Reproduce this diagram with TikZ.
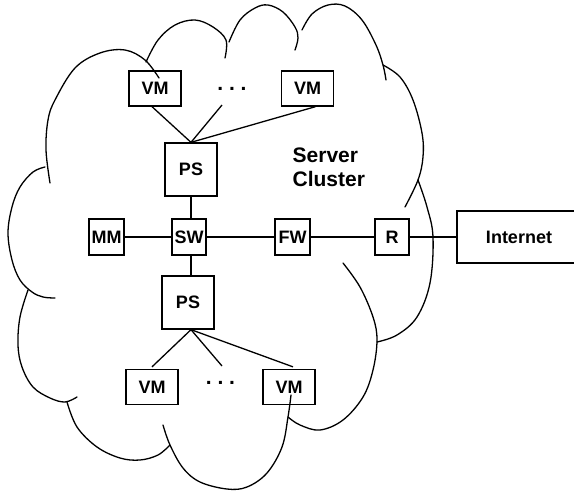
\documentclass[tikz,border=0pt]{standalone}
\usepackage{fontspec}
\setmainfont{Liberation Sans}
\begin{document}
\begin{tikzpicture}[x=1pt,y=-1pt,
  every path/.style={line width=1.3pt},
  box/.style={draw, line width=1.3pt, inner sep=0pt, font=\bfseries\fontsize{18}{21}\selectfont},
  vmbox/.style={box, minimum width=52pt, minimum height=35pt},
  psbox/.style={box, minimum width=52pt, minimum height=53pt},
  smallbox/.style={box, minimum width=34pt, minimum height=36pt},
  dotstyle/.style={inner sep=0pt, font=\bfseries\fontsize{21}{24}\selectfont\frenchspacing},
  link/.style={line width=1.3pt},
  cloudline/.style={line width=1.3pt, line cap=round}]
\useasboundingbox (0,0) rectangle (574,491);

% cloud lobes
\draw[cloudline] plot[smooth, tension=0.6] coordinates {(50,183) (46,150) (48,120) (55,100) (75,68) (100,53) (125,50) (145,60) (159,78)};
\draw[cloudline] plot[smooth, tension=0.6] coordinates {(146,62) (158,40) (175,25) (195,20) (213,27) (226,40) (225,58)};
\draw[cloudline] plot[smooth, tension=0.6] coordinates {(229,42) (240,20) (255,8) (268,5) (283,12) (295,27) (298,38) (295,50)};
\draw[cloudline] plot[smooth, tension=0.6] coordinates {(302,30) (312,14) (328,5) (345,6) (362,20) (376,45) (383,65) (386,80)};
\draw[cloudline] plot[smooth, tension=0.6] coordinates {(383,65) (400,77) (413,100) (422,133) (423,157) (418,180) (405,207)};
\draw[cloudline] plot[smooth, tension=0.6] coordinates {(418,180) (427,207) (433,237) (430,283) (417,317) (397,335) (377,342)};
\draw[cloudline] plot[smooth, tension=0.6] coordinates {(343,263) (360,287) (373,317) (377,340) (373,370) (363,397) (343,420) (320,430) (300,425) (288,417)};
\draw[cloudline] plot[smooth, tension=0.6] coordinates {(291,395) (288,417) (282,447) (267,473) (247,487) (227,489) (200,482) (183,468) (170,445) (163,425)};
\draw[cloudline] plot[smooth, tension=0.6] coordinates {(67,402) (77,427) (97,447) (120,458) (140,460) (158,455) (170,445)};
\draw[cloudline] plot[smooth, tension=0.6] coordinates {(28,290) (20,317) (18,345) (22,367) (33,387) (50,398) (65,402) (77,397)};
\draw[cloudline] plot[smooth, tension=0.6] coordinates {(45,167) (33,172) (20,187) (12,207) (8,233) (12,260) (20,280) (32,292) (43,297) (55,298)};

% nodes
\node[vmbox] (vm1) at (155,88.5) {VM};
\node[vmbox] (vm2) at (307.5,88.5) {VM};
\node[dotstyle] (dots1) at (232,89) {. . .};
\node[psbox] (ps1) at (191,169.5) {PS};
\node[smallbox, minimum width=35pt] (mm) at (106.5,237) {MM};
\node[smallbox] (sw) at (189,237) {SW};
\node[smallbox, minimum width=35pt] (fw) at (292.5,237) {FW};
\node[smallbox] (r) at (392,237) {R};
\node[box, minimum width=124pt, minimum height=52pt] (inet) at (519,237) {Internet};
\node[psbox] (ps2) at (188,302.5) {PS};
\node[vmbox] (vm3) at (152,387) {VM};
\node[vmbox] (vm4) at (289,387) {VM};
\node[dotstyle] (dots2) at (220.5,383) {. . .};
\node[inner sep=0pt, anchor=north west, align=left, font=\bfseries\fontsize{21}{24}\selectfont] (label) at (292,147.5) {Server\\Cluster};

\coordinate (c1) at (222,105);
\coordinate (c2) at (222,366);

% connectors
\draw[link] ([xshift=-3pt]vm1.south) -- (ps1.north);
\draw[link] (c1) -- (ps1.north);
\draw[link] ([xshift=8pt]vm2.south) -- (ps1.north);
\draw[link] (ps1.south) -- (ps1.south |- sw.north);
\draw[link] (mm) -- (sw);
\draw[link] (sw) -- (fw);
\draw[link] (fw) -- (r);
\draw[link] (r) -- (inet);
\draw[link] (ps1.south |- sw.south) -- (ps1.south |- ps2.north);
\draw[link] (ps1.south |- ps2.south) -- ([yshift=2pt]vm3.north);
\draw[link] (ps1.south |- ps2.south) -- (c2);
\draw[link] (ps1.south |- ps2.south) -- ([xshift=4pt,yshift=2pt]vm4.north);
\end{tikzpicture}
\end{document}
